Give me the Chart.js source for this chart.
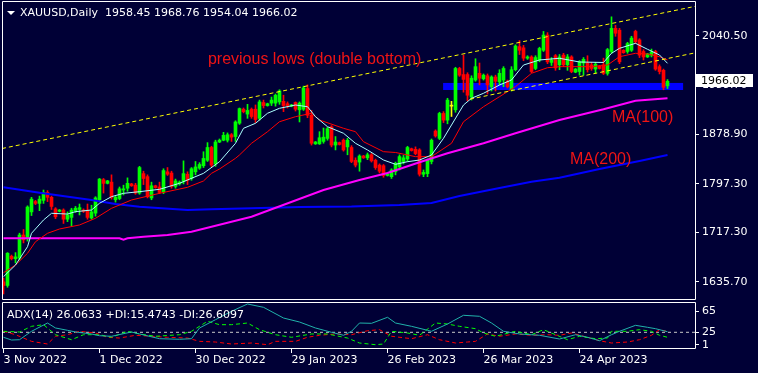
<!DOCTYPE html>
<html><head><meta charset="utf-8">
<script src="https://cdn.jsdelivr.net/npm/chart.js@4.4.0/dist/chart.umd.min.js"></script>
<style>
html,body{margin:0;padding:0;background:#000036;width:758px;height:373px;overflow:hidden}
canvas{position:absolute;left:0}
#c1{top:0}
#c2{top:301px}
</style></head><body>
<canvas id="c1" width="758" height="301"></canvas>
<canvas id="c2" width="758" height="72"></canvas>
<script>
// ---------- data ----------
const titleText = "XAUUSD,Daily  1958.45 1968.76 1954.04 1966.02";
const adxTitle = "ADX(14) 26.0633 +DI:15.4743 -DI:26.6097";
const tickBars = [0,24,48,72,96,120,144];
const tickDates = ["3 Nov 2022","1 Dec 2022","30 Dec 2022","29 Jan 2023","26 Feb 2023","26 Mar 2023","24 Apr 2023"];
const priceTicks = [1635.70,1717.30,1797.30,1878.90,1959.70,2040.50];
const adxTicks = [65,25,1];
const adxLevel = 25;

const open = [1636,1630,1678,1674,1675,1713,1708,1751,1768,1765,1770,1783,1775,1756,1752,1754,1739,1742,1753,1755,
1754,1754,1741,1749,1771,1804,1798,1800,1771,1773,1787,1790,1797,1795,1782,1814,1809,1774,1794,1792,
1784,1817,1815,1793,1797,1801,1813,1806,1817,1823,1827,1836,1857,1830,1866,1869,1869,1878,1875,1897,
1920,1912,1920,1920,1905,1931,1926,1930,1930,1932,1933,1929,1925,1931,1919,1920,1954,1910,1863,1863,
1867,1872,1891,1861,1865,1869,1858,1857,1836,1833,1843,1840,1845,1836,1828,1827,1811,1809,1817,1825,
1834,1838,1855,1854,1853,1813,1814,1834,1884,1872,1913,1902,1925,1919,1987,1977,1977,1940,1968,1979,
1970,1975,1957,1973,1965,1968,1966,1952,1985,2023,2021,2004,2006,1987,2001,2017,2042,1997,2008,1993,
2009,1993,2006,1981,1982,1996,1996,1993,1986,1991,1993,1979,2015,2053,2050,2017,2015,2017,2048,2034,
2015,2006,2009,2015,1990,1984,1958.45];
const high = [1642,1684,1680,1684,1716,1722,1761,1775,1770,1777,1787,1786,1777,1758,1755,1756,1751,1757,1760,1764,
1756,1764,1762,1776,1806,1806,1803,1812,1777,1792,1795,1807,1798,1798,1826,1818,1812,1800,1795,1800,
1822,1824,1818,1805,1802,1835,1817,1824,1834,1832,1850,1865,1859,1869,1871,1882,1881,1880,1901,1922,
1922,1928,1922,1927,1935,1935,1930,1940,1945,1952,1943,1932,1928,1932,1932,1958,1960,1918,1867,1883,
1889,1890,1893,1875,1866,1871,1872,1860,1840,1845,1844,1848,1847,1838,1830,1829,1814,1822,1833,1845,
1844,1859,1856,1858,1855,1820,1838,1871,1886,1915,1916,1938,1933,1989,1989,2009,1980,1975,2003,1996,
1978,1978,1975,1976,1985,1990,1968,1990,2026,2033,2025,2008,2008,2008,2022,2048,2046,2005,2010,2010,
2012,2010,2008,1987,2000,2005,2008,1997,1997,1992,2004,2020,2072,2058,2053,2018,2030,2040,2050,2036,
2018,2012,2019,2017,1993,1986,1968.76];
const low = [1616,1627,1672,1667,1672,1700,1703,1745,1763,1753,1765,1768,1755,1740,1751,1732,1735,1728,1750,1746,
1750,1739,1739,1744,1768,1782,1797,1772,1767,1771,1779,1785,1793,1780,1780,1796,1774,1771,1790,1781,
1781,1811,1790,1790,1795,1797,1796,1803,1812,1821,1824,1834,1825,1826,1865,1868,1866,1867,1867,1895,
1914,1905,1905,1898,1902,1922,1925,1926,1925,1928,1916,1922,1924,1917,1899,1918,1906,1861,1862,1862,
1864,1869,1858,1853,1861,1851,1845,1832,1825,1818,1839,1837,1833,1821,1815,1808,1810,1806,1812,1820,
1830,1834,1851,1845,1810,1809,1809,1830,1874,1870,1898,1896,1908,1915,1974,1948,1934,1935,1966,1960,
1968,1945,1950,1950,1960,1957,1955,1950,1983,2010,2000,2002,1980,1985,1998,2015,1995,1992,1984,1985,
1990,1984,1980,1980,1976,1976,1981,1984,1980,1986,1977,1976,2012,2040,1995,2012,2012,2015,2028,2005,
2001,2005,2006,1984,1978,1952,1954.04];
const close = [1630,1683,1674,1677,1713,1705,1759,1772,1765,1772,1783,1775,1760,1743,1754,1739,1746,1754,1757,1758,
1752,1742,1751,1774,1805,1798,1802,1775,1775,1789,1789,1798,1794,1782,1824,1806,1776,1794,1791,1783,
1819,1813,1793,1802,1800,1814,1803,1822,1825,1829,1839,1857,1828,1866,1869,1877,1878,1874,1899,1921,
1916,1918,1908,1903,1932,1926,1929,1935,1943,1950,1926,1926,1927,1920,1930,1955,1910,1864,1866,1873,
1874,1888,1861,1866,1862,1853,1869,1834,1828,1843,1840,1845,1835,1824,1818,1811,1813,1820,1831,1842,
1840,1857,1852,1847,1813,1816,1836,1869,1876,1913,1902,1935,1925,1987,1976,1969,1943,1971,1990,1971,
1976,1960,1973,1966,1979,1987,1957,1985,2024,2017,2004,2006,1982,2005,2020,2042,1998,2001,1988,2006,
1993,2006,1982,1986,1998,2002,1985,1987,1994,1987,1979,2018,2053,2045,1998,2013,2028,2037,2031,2009,
2006,2011,2014,1986,1982,1956,1966.02];

const maFastBars = [0,3,6,7,10,12,16,18,22,24,27,30,34,39,44,50,54,58,60,63,66,69,73,76,78,81,85,88,91,95,98,101,104,107,110,112,115,117,120,124,127,130,134,139,144,150,152,154,158,161,164,166];
const maFast = [1644.4,1663.6,1693.8,1715.8,1737.7,1748.7,1747.5,1751.4,1754.1,1765.2,1776.1,1781.6,1784.3,1788.2,1798.1,1814.5,1833.6,1863.9,1888.6,1896.8,1913.3,1921.5,1926.9,1924.1,1907.7,1891.2,1880.4,1863.9,1852.9,1836.4,1829.3,1833.6,1836.4,1844.6,1872.1,1894,1926.9,1938,1946.2,1959.8,1968.1,1992.7,2001,2003.8,1997.7,1996.9,2012,2020.2,2028.4,2018.6,2009.2,1995.5];
const maSlowBars = [0,3,6,8,11,14,19,23,27,32,39,46,50,52,54,58,59,62,66,69,73,77,79,85,88,90,95,98,103,107,112,115,120,124,128,132,136,139,147,151,154,158,161,164,166];
const maSlow = [1651,1663.6,1682.9,1702,1715.8,1722.9,1729.5,1740.5,1756.9,1770.6,1781.6,1791.5,1801.9,1814.5,1821.6,1839.2,1844.7,1863.9,1883,1899.4,1907.7,1913.3,1902.2,1888.6,1883,1866.5,1850.1,1848.8,1841.9,1841.9,1863.9,1899.4,1924.1,1940.6,1957.2,1979.1,1988.3,1990,1990,1992.7,2006.4,2012,2010.8,2006.4,2001];
const ma100Bars = [0,29,30,31,35,41,47,52,57,62,80,89,96,104,111,120,128,139,150,158,166];
const ma100 = [1707.6,1707.6,1705.3,1707.6,1710.2,1713,1718.4,1726.7,1734.9,1743.1,1787.1,1803.5,1815,1832.6,1847.4,1863.9,1880.4,1902.2,1919.8,1934,1937.9];
const ma200Bars = [0,9,22,28,34,46,52,62,74,87,99,107,114,124,132,139,149,159,166];
const ma200 = [1791.5,1782.6,1770.6,1764,1759.6,1754.1,1755.3,1756.9,1759.1,1759.9,1762.4,1765.7,1777.2,1790.3,1800.7,1807.3,1821.6,1834.8,1844.7];

const upperLineBars = [-0.375,172.875];
const upperLinePrices = [1855.3,2089.2];
const lowerLineBars = [116.6,172.875];
const lowerLinePrices = [1936.5,2012.7];
const zoneBars = [109.9,169.9];
const zonePrices = [1951.6,1963.2];

const adxBars = [0,2,4,7,11,13,16,18,22,24,27,32,34,39,44,47,49,53,57,61,65,70,74,78,82,85,87,89,92,96,98,102,106,107,111,115,119,122,125,129,134,139,143,146,149,152,154,158,161,163,166];
const adx = [15.5,10.3,10.9,26.9,42.7,33.2,28.8,25.6,21.8,18.5,17.4,25.6,21.8,12.8,11.7,12.8,33.2,49,65,78.9,72.6,52.2,44.6,33.2,25,19.3,26.9,42.7,42.1,53.6,42.7,36.4,28.8,26.9,40.8,57.4,55.5,42.7,26.9,21.8,19.3,12.2,20.4,15.5,9,20.4,26.9,38.3,34.5,31.9,26.1];
const plusDiBars = [0,4,7,10,13,17,20,24,27,31,34,38,44,47,51,54,57,61,64,68,72,77,81,86,89,93,95,97,101,104,108,111,114,118,120,123,128,132,135,138,141,144,148,151,152,156,159,162,164,166];
const plusDi = [26.9,25.6,36.4,39.5,20.4,10.9,20.4,20.4,15.5,26.9,21.8,17.4,20.4,26.9,46,39.5,39.5,42.7,30,20.4,15.5,21.8,21.8,14.1,4.6,1.4,2.7,26.9,23.7,19.3,42.7,40.8,36.4,31.9,23.7,17.4,26.9,20.4,30,20.4,10.9,17.4,12.8,14.1,26.9,26.9,30,26.9,19.3,15.5];
const minusDiBars = [0,3,7,11,13,16,19,23,26,29,33,37,41,46,49,53,57,62,66,68,73,76,79,83,87,91,94,97,102,106,109,113,116,118,121,124,128,132,136,139,142,146,149,152,156,159,162,164,166];
const minusDi = [26.9,20.4,7.8,2.7,17.4,20.4,26.9,23.7,15.5,14.1,19.3,17.4,15.5,14.1,7.8,6.5,2.7,4.6,1.4,7.8,7.8,15.5,19.3,21.8,20.4,28,30,17.4,12.8,20.4,10.9,4.6,6.5,7.8,21.8,17.4,21.8,19.3,20.4,19.3,23.7,15.5,9,4.6,6.5,10.9,19.3,30,26.6];

// ---------- layout / style ----------
const X_MIN = -0.375, X_MAX = 172.875;
const BG = '#000036';
const FONT = 'DejaVu Sans';
const annotations = [
  {text:'previous lows (double bottom)', x:51.1, y:2001, size:16},
  {text:'MA(100)', x:152.1, y:1905.5, size:16},
  {text:'MA(200)', x:141.6, y:1836.4, size:16}
];
const pts = (xs, ys) => xs.map((x,i)=>({x, y:ys[i]}));
const candleColor = i => close[i] > open[i] ? '#00ff00' : (close[i] < open[i] ? '#ff0000' : '#ffff00');

const bgPlugin = {id:'bg', beforeDraw(c){const x=c.ctx;x.save();x.fillStyle=BG;x.fillRect(0,0,c.width,c.height);x.restore();}};
const framePlugin = {id:'frame', afterDraw(c){const a=c.chartArea,x=c.ctx;x.save();x.strokeStyle='#ffffff';x.lineWidth=1;x.beginPath();x.rect(a.left+0.5,a.top+0.5,a.right-a.left,a.bottom-a.top-1);x.stroke();x.restore();}};

const mainPlugin = {
  id:'mainDecor',
  beforeDatasetsDraw(c){
    const x=c.ctx, xs=c.scales.x, ys=c.scales.y;
    const x0=xs.getPixelForValue(zoneBars[0]), x1=xs.getPixelForValue(zoneBars[1]);
    const y0=ys.getPixelForValue(zonePrices[1]), y1=ys.getPixelForValue(zonePrices[0]);
    x.save(); x.fillStyle='#0000ff'; x.fillRect(x0,y0,x1-x0,y1-y0); x.restore();
  },
  afterDraw(c){
    const x=c.ctx, xs=c.scales.x, ys=c.scales.y;
    x.save();
    x.fillStyle='#f01414'; x.textBaseline='middle'; x.textAlign='left';
    annotations.forEach(a=>{x.font=a.size+'px "Liberation Sans"'; x.fillText(a.text, xs.getPixelForValue(a.x), ys.getPixelForValue(a.y));});
    x.fillStyle='#ffffff';
    x.beginPath(); x.moveTo(7,11); x.lineTo(15,11); x.lineTo(11,15); x.closePath(); x.fill();
    x.font='11px "'+FONT+'"'; x.textBaseline='middle'; x.fillText(titleText, 20, 13);
    const last = close[close.length-1];
    const py = Math.round(ys.getPixelForValue(last));
    x.fillStyle='#ffffff'; x.fillRect(696, py-7, 57, 13);
    x.fillStyle='#000000'; x.fillText(last.toFixed(2), 701, py);
    x.restore();
  }
};

const adxPlugin = {
  id:'adxDecor',
  afterDraw(c){
    const x=c.ctx; x.save(); x.fillStyle='#ffffff'; x.font='11px "'+FONT+'"'; x.textBaseline='middle'; x.textAlign='left';
    x.fillText(adxTitle, 7, 14); x.restore();
  }
};

const tickFont = {family:FONT, size:11};
const lineDs = (label, data, color, width, order, dash) => ({type:'line', label, data, borderColor:color, borderWidth:width, pointRadius:0, tension:0, order, borderDash:dash||[], fill:false});
const fixV = w => s => { s.width = w; s.paddingTop = 0; s.paddingBottom = 0; };
const fixH = h => s => { s.height = h; s.paddingLeft = 0; s.paddingRight = 0; };

new Chart(document.getElementById('c1'), {
  type:'bar',
  data:{datasets:[
    lineDs('upper', pts(upperLineBars, upperLinePrices), '#ffff00', 1, 0, [4,3]),
    lineDs('lower', pts(lowerLineBars, lowerLinePrices), '#ffff00', 1, 0, [4,3]),
    lineDs('fast', pts(maFastBars, maFast), '#aaffff', 1, 1),
    lineDs('slow', pts(maSlowBars, maSlow), '#ff0000', 1, 2),
    lineDs('ma100', pts(ma100Bars, ma100), '#ff00ff', 2, 3),
    lineDs('ma200', pts(ma200Bars, ma200), '#0000ff', 2, 4),
    {type:'bar', label:'body', order:5, grouped:false, barThickness:3, minBarLength:1,
     data: open.map((o,i)=>({x:i, y:[Math.min(o,close[i]), Math.max(o,close[i])]})),
     backgroundColor: ctx => candleColor(ctx.dataIndex)},
    {type:'bar', label:'wick', order:6, grouped:false, barThickness:1,
     data: high.map((h,i)=>({x:i, y:[low[i], h]})),
     backgroundColor: ctx => candleColor(ctx.dataIndex)}
  ]},
  options:{
    responsive:false, animation:false, devicePixelRatio:1,
    layout:{padding:{left:2, top:1, right:0, bottom:1}},
    plugins:{legend:{display:false}, tooltip:{enabled:false}},
    scales:{
      x:{type:'linear', min:X_MIN, max:X_MAX, offset:false, display:false},
      y:{type:'linear', position:'right', min:1606.05, max:2098.05,
         afterBuildTicks: s => { s.ticks = priceTicks.map(v=>({value:v})); },
         afterFit: fixV(63),
         ticks:{color:'#ffffff', font:tickFont, padding:3, callback: v => Number(v).toFixed(2)},
         grid:{drawOnChartArea:false, color:'#ffffff', tickLength:4},
         border:{display:false}}
    }
  },
  plugins:[bgPlugin, mainPlugin, framePlugin]
});

new Chart(document.getElementById('c2'), {
  type:'line',
  data:{datasets:[
    lineDs('level', pts([X_MIN, X_MAX], [adxLevel, adxLevel]), '#c8c8c8', 1, 3, [3,3]),
    lineDs('ADX', pts(adxBars, adx), '#20b2aa', 1, 0),
    lineDs('+DI', pts(plusDiBars, plusDi), '#00ff00', 1, 1, [4,3]),
    lineDs('-DI', pts(minusDiBars, minusDi), '#ff0000', 1, 2, [4,3])
  ]},
  options:{
    responsive:false, animation:false, devicePixelRatio:1,
    layout:{padding:{left:2, top:1, right:0, bottom:0}},
    plugins:{legend:{display:false}, tooltip:{enabled:false}},
    scales:{
      x:{type:'linear', min:X_MIN, max:X_MAX, offset:false,
         afterBuildTicks: s => { s.ticks = tickBars.map(v=>({value:v})); },
         afterFit: fixH(24),
         ticks:{color:'#ffffff', font:tickFont, align:'start', padding:1, maxRotation:0, autoSkip:false,
                callback: v => tickDates[tickBars.indexOf(v)]},
         grid:{drawOnChartArea:false, color:'#ffffff', tickLength:4},
         border:{display:false}},
      y:{type:'linear', position:'right', min:-6.8, max:82.7,
         afterBuildTicks: s => { s.ticks = adxTicks.map(v=>({value:v})); },
         afterFit: fixV(63),
         ticks:{color:'#ffffff', font:tickFont, padding:3, callback: v => String(v)},
         grid:{drawOnChartArea:false, color:'#ffffff', tickLength:4},
         border:{display:false}}
    }
  },
  plugins:[bgPlugin, adxPlugin, framePlugin]
});
</script>
</body></html>
